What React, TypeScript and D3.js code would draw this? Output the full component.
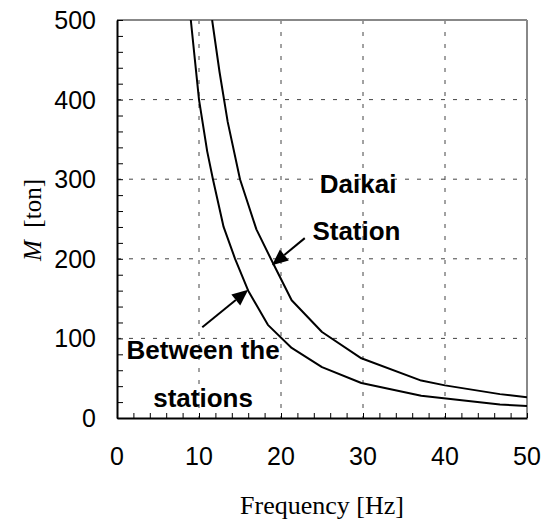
import React, { useEffect, useRef } from 'react';
import * as d3 from 'd3';

// Daikai Station curve (frequency Hz, mass ton)
const daikaiFreq = [11.6, 12.5, 13.5, 15, 17, 19, 21.3, 25, 29.8, 37.1, 40, 46.7, 50];
const daikaiMass = [500, 435, 372, 300, 237, 195, 148, 108, 75, 47, 41, 30, 26];

// Between the stations curve
const betweenFreq = [9.0, 9.5, 10, 11, 11.7, 13, 14.4, 16, 18.4, 21.3, 25, 29.8, 37.1, 46.7, 50];
const betweenMass = [500, 450, 400, 335, 300, 240, 200, 160, 117, 88, 64, 44, 28, 17, 15];

const xTicks = [0, 10, 20, 30, 40, 50];
const yTicks = [0, 100, 200, 300, 400, 500];

const W = 546;
const H = 523;

const App = () => {
  const ref = useRef<SVGSVGElement>(null);

  useEffect(() => {
    const svg = d3.select(ref.current);
    svg.selectAll('*').remove();

    const left = 117, right = 527, top = 20, bottom = 418;
    const x = d3.scaleLinear().domain([0, 50]).range([left, right]);
    const y = d3.scaleLinear().domain([0, 500]).range([bottom, top]);
    const sans = 'Liberation Sans, Arial, sans-serif';
    const serif = 'Liberation Serif, Times New Roman, serif';

    // grid
    const grid = svg.append('g');
    grid.selectAll('line.vx')
      .data(xTicks.slice(1, -1))
      .enter()
      .append('line')
      .attr('x1', (d) => x(d)).attr('x2', (d) => x(d))
      .attr('y1', top).attr('y2', bottom)
      .attr('stroke', '#444').attr('stroke-width', 1)
      .attr('stroke-dasharray', '4,8');
    grid.selectAll('line.hy')
      .data(yTicks.slice(1, -1))
      .enter()
      .append('line')
      .attr('x1', left).attr('x2', right)
      .attr('y1', (d) => y(d)).attr('y2', (d) => y(d))
      .attr('stroke', '#444').attr('stroke-width', 1)
      .attr('stroke-dasharray', '4,8');

    // top/right frame
    svg.append('line').attr('x1', left).attr('x2', right).attr('y1', top).attr('y2', top)
      .attr('stroke', '#888').attr('stroke-width', 2);
    svg.append('line').attr('x1', right).attr('x2', right).attr('y1', top).attr('y2', bottom)
      .attr('stroke', '#888').attr('stroke-width', 2);

    // curves
    svg.append('clipPath').attr('id', 'plotclip')
      .append('rect').attr('x', left).attr('y', top).attr('width', right - left).attr('height', bottom - top);
    const line = d3.line<[number, number]>()
      .x((d) => x(d[0]))
      .y((d) => y(d[1]));
    const series = [
      daikaiFreq.map((f, i) => [f, daikaiMass[i]] as [number, number]),
      betweenFreq.map((f, i) => [f, betweenMass[i]] as [number, number]),
    ];
    svg.append('g').attr('clip-path', 'url(#plotclip)')
      .selectAll('path')
      .data(series)
      .enter()
      .append('path')
      .attr('d', (d) => line(d))
      .attr('fill', 'none')
      .attr('stroke', '#000')
      .attr('stroke-width', 2)
      .attr('stroke-linejoin', 'round');

    // axes
    const xAxis = d3.axisBottom(x).tickValues(d3.range(0, 51, 2)).tickSizeInner(-5).tickSizeOuter(0).tickFormat(() => '');
    const xg = svg.append('g').attr('transform', `translate(0,${bottom})`).call(xAxis);
    const yAxis = d3.axisLeft(y).tickValues(d3.range(0, 501, 20)).tickSizeInner(-6).tickSizeOuter(0).tickFormat(() => '');
    const yg = svg.append('g').attr('transform', `translate(${left},0)`).call(yAxis);
    [xg, yg].forEach((g) => {
      g.select('.domain').attr('stroke', '#000').attr('stroke-width', 2);
      g.selectAll('.tick line').attr('stroke', '#000').attr('stroke-width', 1);
    });

    // tick labels
    svg.append('g').selectAll('text')
      .data(xTicks)
      .enter()
      .append('text')
      .attr('x', (d) => x(d))
      .attr('y', 465)
      .attr('text-anchor', 'middle')
      .attr('font-family', sans)
      .attr('font-size', 25)
      .text((d) => d);
    svg.append('g').selectAll('text')
      .data(yTicks)
      .enter()
      .append('text')
      .attr('x', 96)
      .attr('y', (d) => y(d) + 9)
      .attr('text-anchor', 'end')
      .attr('font-family', sans)
      .attr('font-size', 25)
      .text((d) => d);

    // axis titles
    svg.append('text')
      .attr('x', 322).attr('y', 514)
      .attr('text-anchor', 'middle')
      .attr('font-family', serif)
      .attr('font-size', 26)
      .text('Frequency [Hz]');
    const yt = svg.append('text')
      .attr('transform', 'translate(41,220) rotate(-90)')
      .attr('text-anchor', 'middle')
      .attr('font-family', serif)
      .attr('font-size', 25);
    yt.append('tspan').attr('font-style', 'italic').text('M');
    yt.append('tspan').text('\u00a0 [ton]');

    // annotations
    const labels = [
      { t: 'Daikai', f: 29.4, m: 283 },
      { t: 'Station', f: 29.2, m: 224 },
      { t: 'Between the', f: 10.5, m: 74 },
      { t: 'stations', f: 10.5, m: 14 },
    ];
    svg.append('g').selectAll('text')
      .data(labels)
      .enter()
      .append('text')
      .attr('x', (d) => x(d.f))
      .attr('y', (d) => y(d.m))
      .attr('text-anchor', 'middle')
      .attr('font-family', sans)
      .attr('font-weight', 'bold')
      .attr('font-size', 26)
      .text((d) => d.t);

    const arrows = [
      { from: [22.9, 226], to: [18.9, 192] },
      { from: [10.4, 114], to: [16.0, 161] },
    ];
    arrows.forEach((a) => {
      const x1 = x(a.from[0]), y1 = y(a.from[1]);
      const x2 = x(a.to[0]), y2 = y(a.to[1]);
      const ang = Math.atan2(y2 - y1, x2 - x1);
      const len = 16, half = 7;
      const bx = x2 - len * Math.cos(ang), by = y2 - len * Math.sin(ang);
      svg.append('line')
        .attr('x1', x1).attr('y1', y1).attr('x2', bx).attr('y2', by)
        .attr('stroke', '#000').attr('stroke-width', 2);
      const pts = [
        [x2, y2],
        [bx + half * Math.sin(ang), by - half * Math.cos(ang)],
        [bx - half * Math.sin(ang), by + half * Math.cos(ang)],
      ];
      svg.append('polygon')
        .attr('points', pts.map((p) => p.join(',')).join(' '))
        .attr('fill', '#000');
    });
  }, []);

  return (
    <svg
      ref={ref}
      width={W}
      height={H}
      style={{ position: 'absolute', left: 0, top: 0, background: '#fff' }}
    />
  );
};

export default App;
